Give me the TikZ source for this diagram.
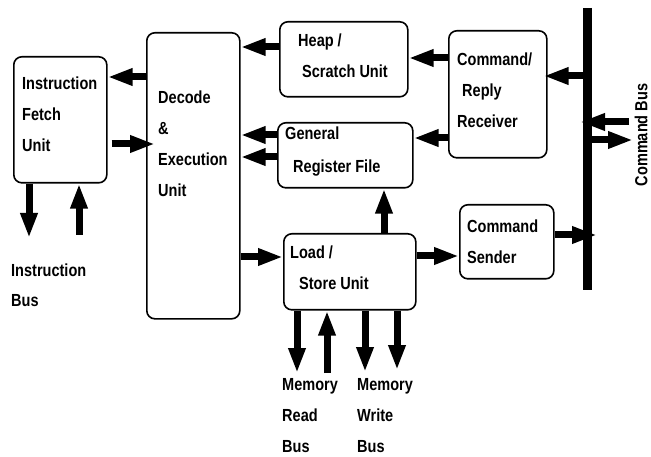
\documentclass[tikz,border=0pt]{standalone}
\usepackage{fontspec}
\setmainfont{Liberation Sans}[FakeStretch=0.83]
\usetikzlibrary{arrows.meta}

\begin{document}
\begin{tikzpicture}[x=1pt,y=-1pt,
    unit/.style={draw,line width=1.6pt,rounded corners=8pt,anchor=north west,inner sep=0pt},
    lbl/.style={anchor=base west,align=left,inner sep=0pt,font=\fontsize{17.5}{31}\selectfont\bfseries},
    flow/.style={line width=7pt,-{Triangle[length=25pt,width=16pt]}},
    busline/.style={line width=9pt}]
        \useasboundingbox (0,0) rectangle (651,457);
        \node[unit,minimum width=93pt,minimum height=126pt] (fetch) at (13,56) {};
        \node[unit,minimum width=93pt,minimum height=286pt] (dec) at (146,32) {};
        \node[unit,minimum width=128pt,minimum height=75pt] (heap) at (279,21) {};
        \node[unit,minimum width=98pt,minimum height=127pt] (ccr) at (448,30) {};
        \node[unit,minimum width=135pt,minimum height=65pt] (grf) at (277,122) {};
        \node[unit,minimum width=132pt,minimum height=76pt] (ls) at (283,233) {};
        \node[unit,minimum width=94pt,minimum height=74pt] (cs) at (459,204) {};
        \coordinate (cbt) at (587,8);
        \coordinate (cbb) at (587,290);
        \draw[busline] (cbt) -- (cbb);

        % labels are placed by the baseline of their last line
        \node[lbl] (fetchtxt) at (22,152) {Instruction\\Fetch\\Unit};
        \node[lbl] (dectxt) at (158,197) {Decode\\\&\\Execution\\Unit};
        \node[lbl] (heaptxt) at (298,78) {Heap /\\\hspace{4pt}Scratch Unit};
        \node[lbl] (ccrtxt) at (457,128) {Command/\\\hspace{5pt}Reply\\Receiver};
        \node[lbl] (grftxt) at (285,173) {General\\[2pt]\hspace{8pt}Register File};
        \node[lbl] (cstxt) at (467,264) {Command\\Sender};
        \node[lbl] (lstxt) at (290,290) {Load /\\\hspace{9pt}Store Unit};
        \node[lbl] (ibtxt) at (11,307) {Instruction\\Bus};
        \node[lbl] (mrbtxt) at (282,452) {Memory\\Read\\Bus};
        \node[lbl] (mwbtxt) at (357,452) {Memory\\Write\\Bus};
        \node[font=\fontsize{17.5}{20}\selectfont\bfseries,rotate=90,inner sep=0pt] (cbtxt) at (641,135) {Command Bus};

        \coordinate (ibd) at (29,238);
        \coordinate (ibu) at (79,235);
        \coordinate (mrd) at (297,373);
        \coordinate (mru) at (327,373);
        \coordinate (mwa) at (365,372);
        \coordinate (mwb) at (397,370);

        \draw[flow] (dec.west |- 0,77) -- (fetch.east |- 0,77);
        \draw[flow] ([xshift=4pt]fetch.east |- 0,144) -- ([xshift=9pt]dec.west |- 0,144);
        \draw[flow] (heap.west |- 0,47) -- (dec.east |- 0,47);
        \draw[flow] (ccr.west |- 0,58) -- (heap.east |- 0,58);
        \draw[flow] (cbt |- 0,76) -- ([xshift=-4pt]ccr.east |- 0,76);
        \draw[flow] (ccr.west |- 0,138) -- (grf.east |- 0,138);
        \draw[flow] (grf.west |- 0,135) -- (dec.east |- 0,135);
        \draw[flow] (grf.west |- 0,157) -- (dec.east |- 0,157);
        \draw[flow] ([xshift=42pt]cbt |- 0,122) -- ([xshift=-7pt]cbt |- 0,122);
        \draw[flow] ([xshift=3pt]cbt |- 0,140) -- ([xshift=46pt]cbt |- 0,140);
        \draw[flow] (ls.north -| 384,0) -- (grf.south -| 384,0);
        \draw[flow] (dec.east |- 0,257) -- (ls.west |- 0,257);
        \draw[flow] (ls.east |- 0,256) -- (cs.west |- 0,256);
        \draw[flow] (cs.east |- 0,235) -- ([xshift=10pt]cbt |- 0,235);
        \draw[flow] (fetch.south -| ibd) -- (ibd);
        \draw[flow] (ibu) -- (fetch.south -| ibu);
        \draw[flow] (ls.south -| mrd) -- (mrd);
        \draw[flow] (mru) -- (ls.south -| mru);
        \draw[flow] (ls.south -| mwa) -- (mwa);
        \draw[flow] (ls.south -| mwb) -- (mwb);
    \end{tikzpicture}
\end{document}
